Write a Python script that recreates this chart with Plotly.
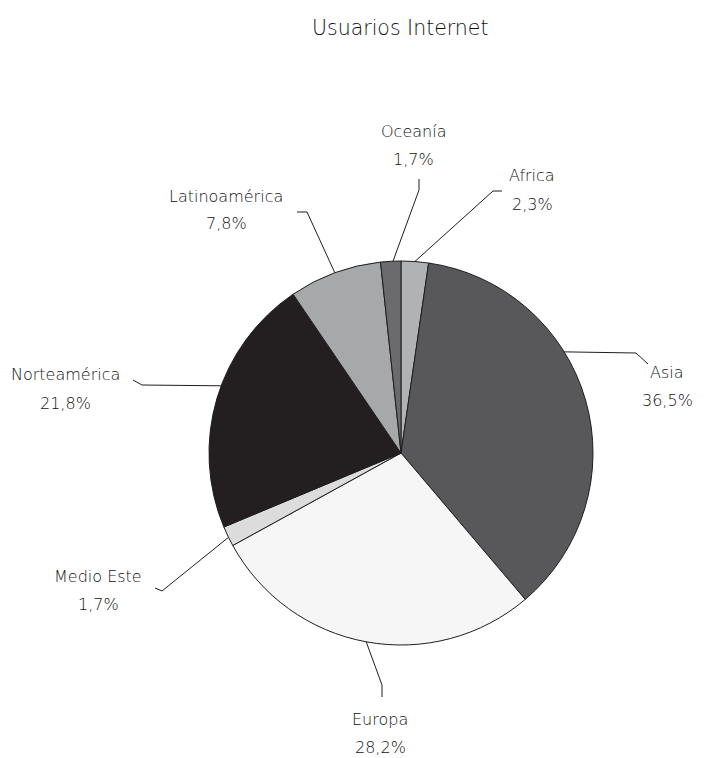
import math
import plotly.graph_objects as go

# Share of internet users by region (percent)
regions = ["Africa", "Asia", "Europa", "Medio Este", "Norteamérica", "Latinoamérica", "Oceanía"]
shares = [2.3, 36.5, 28.2, 1.7, 21.8, 7.8, 1.7]
slice_colors = ["#b1b2b4", "#58585a", "#f6f6f6", "#dcdcdd", "#231f20", "#a7a8aa", "#6b6b6d"]

W, H = 707, 758
CX, CY, R = 401, 453, 192  # pie centre and radius in pixels

FONT = "DejaVu Sans"
TEXT_COLOR = "#111111"

# Leader-line styling per region: position of the anchor inside its slice,
# elbow offset from the centre, tail offset from the elbow, label block centre.
leaders = {
    "Africa":        dict(frac=0.50, elbow=(92, -262),  tail=(9, 0),   label=(131, -263)),
    "Asia":          dict(frac=0.38, elbow=(235, -100), tail=(12, 11), label=(266, -67)),
    "Europa":        dict(frac=0.50, elbow=(-19, 232),  tail=(0, 12),  label=(-21, 280)),
    "Medio Este":    dict(frac=0.45, elbow=(-239, 138), tail=(-7, -3), label=(-303, 137)),
    "Norteamérica":  dict(frac=0.55, elbow=(-259, -68), tail=(-9, -5), label=(-336, -64)),
    "Latinoamérica": dict(frac=0.50, elbow=(-94, -241), tail=(-10, 0), label=(-175, -243)),
    "Oceanía":       dict(frac=0.61, elbow=(18, -263),  tail=(0, -11), label=(12, -308)),
}


def px(x):
    return x / W


def py(y):
    return 1 - y / H


fig = go.Figure(
    go.Pie(
        labels=regions,
        values=shares,
        sort=False,
        direction="clockwise",
        rotation=0,
        marker=dict(colors=slice_colors, line=dict(color="#1e1e1e", width=1)),
        textinfo="none",
        hoverinfo="label+percent",
        showlegend=False,
        domain=dict(x=[px(CX - R), px(CX + R)], y=[py(CY + R), py(CY - R)]),
    )
)

shapes, annotations = [], []
total = sum(shares)
start = 0.0
for name, val in zip(regions, shares):
    span = val / total * 360.0
    cfg = leaders[name]
    ang = math.radians(start + span * cfg["frac"])
    start += span
    ex, ey = CX + R * math.sin(ang), CY - R * math.cos(ang)
    bx, by = CX + cfg["elbow"][0], CY + cfg["elbow"][1]
    tx, ty = bx + cfg["tail"][0], by + cfg["tail"][1]
    shapes.append(dict(
        type="path", xref="paper", yref="paper",
        path=f"M {px(ex)},{py(ey)} L {px(bx)},{py(by)} L {px(tx)},{py(ty)}",
        line=dict(color="#1e1e1e", width=1),
    ))
    lx, ly = CX + cfg["label"][0], CY + cfg["label"][1]
    pct = f"{val:.1f}".replace(".", ",") + "%"
    for text, dy in ((name, -14), (pct, 14)):
        annotations.append(dict(
            x=px(lx), y=py(ly + dy), xref="paper", yref="paper",
            text=text, showarrow=False, xanchor="center", yanchor="middle",
            font=dict(family=FONT, size=16, color=TEXT_COLOR, weight=200),
        ))

annotations.append(dict(
    x=px(400), y=py(28), xref="paper", yref="paper",
    text="Usuarios Internet", showarrow=False, xanchor="center", yanchor="middle",
    font=dict(family=FONT, size=20.5, color="#111111", weight=300),
))

fig.update_layout(
    width=W, height=H,
    margin=dict(l=0, r=0, t=0, b=0),
    paper_bgcolor="white", plot_bgcolor="white",
    shapes=shapes, annotations=annotations,
)

fig.write_html("out.html")
